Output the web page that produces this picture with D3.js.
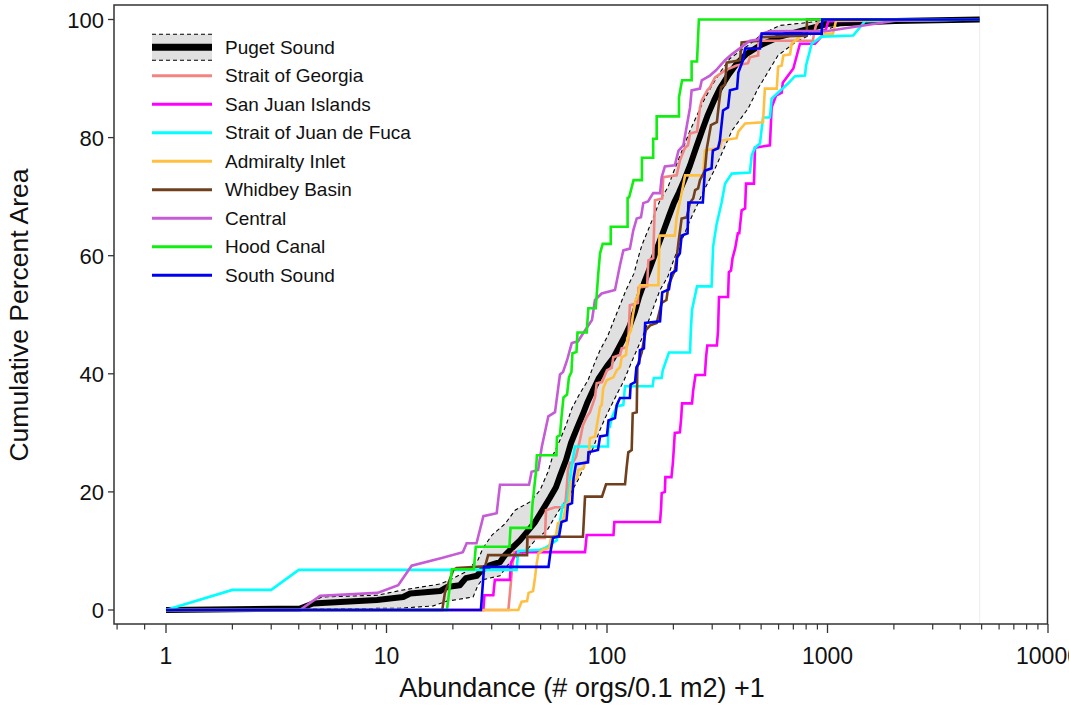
<!DOCTYPE html>
<html><head><meta charset="utf-8">
<script src="https://cdn.jsdelivr.net/npm/d3@7"></script>
<style>body{margin:0;background:#fff}svg{display:block}text{font-family:"Liberation Sans",Arial,sans-serif;fill:#111}</style>
</head><body><svg id="c" width="1069" height="707"></svg>
<script>
// ---------------- data ----------------
const seriesNames = ["Puget Sound","Strait of Georgia","San Juan Islands","Strait of Juan de Fuca","Admiralty Inlet","Whidbey Basin","Central","Hood Canal","South Sound"];
const xTicks = [1,10,100,1000,10000];
const xTickLabels = ["1","10","100","1000","10000"];
const yTicks = [0,20,40,60,80,100];
const yTickLabels = ["0","20","40","60","80","100"];

const pugetSound = [[1,0],[4.05,0.25],[4.64,1.1],[9.06,1.7],[11.9,2.2],[12.8,2.8],[17.5,3.2],[18.8,3.9],[21.5,4.2],[22.9,5.4],[25.7,5.8],[27.1,6.8],[29.5,7.6],[32.7,8.1],[34.5,9.3],[37.1,10.5],[40.3,11.8],[43.8,13.4],[47.2,14.9],[51.3,17.1],[55.1,19.0],[58.7,20.8],[61.2,22.7],[65.2,25.4],[68.7,28.3],[73.1,30.8],[77.8,33.2],[81.2,35.0],[86.4,37.2],[92.0,39.3],[100,41.3],[106.5,42.6],[113.4,44.5],[120.7,46.4],[127,48.2],[134,50.6],[139.7,53.0],[147,55.3],[155,57.5],[163,59.7],[172,62.1],[181,64.3],[191,66.7],[201,68.9],[212,70.7],[224,72.8],[238,75.3],[253,78.2],[270,81.2],[287,83.9],[306,86.3],[325,88.3],[354,90.5],[385,92.4],[427,94.1],[494,95.6],[609,97.1],[833,98.5],[1016,99.3],[2024,99.75],[4900,100]];
const pugetUpper = [[1,0],[4.05,0.5],[5.1,2.2],[9.06,2.5],[11.9,3.4],[17.5,4.4],[19.4,5.1],[22.7,6.4],[26.0,8.5],[27.4,10.5],[30.1,12.7],[34.5,14.6],[38.3,16.9],[44.7,18.3],[49.7,20.3],[54.0,23.4],[56.9,26.2],[61.2,28.8],[65.2,31.3],[69.4,34.2],[75.4,36.7],[82.0,38.9],[88.2,42.0],[93.0,44.0],[101,46.5],[107.6,49.1],[114.5,51.6],[122,54.2],[132.6,57.0],[138.3,59.6],[144,61.8],[153.5,64.3],[163,66.7],[174,69.4],[189,71.6],[199,73.9],[210,76.1],[224,78.7],[238,81.2],[256,83.8],[275,86.3],[299,88.8],[325,91.0],[361,93.4],[436,95.6],[510,97.6],[609,99.0],[925,99.7],[4900,100]];
const pugetLower = [[1,0],[11.5,0.3],[16.3,0.7],[18.8,1.5],[24.7,2.2],[26.0,4.2],[27.1,5.1],[32.7,5.8],[36.3,8.1],[43.4,10.2],[47.2,11.8],[53.5,13.5],[59.9,16.6],[67.9,19.6],[73.9,22.0],[80.3,24.9],[86.4,27.4],[92.0,30.1],[98.0,32.5],[105.4,34.9],[112.2,36.9],[119.5,38.9],[127,41.3],[135.3,43.7],[144,46.0],[153.5,48.7],[163,51.4],[174,54.2],[189,56.5],[199,58.9],[210,61.2],[224,63.6],[238,66.0],[256,68.5],[278,71.4],[306,74.4],[336,77.8],[369,81.2],[436,84.9],[484,88.3],[543,91.4],[596,93.9],[712,96.1],[878,97.8],[1140,99.0],[1730,99.7],[4900,100]];

const straitOfGeorgia = [[1,0],[35.7,0],[36.3,2.9],[37.0,6.4],[37.9,9.8],[43.2,9.8],[43.8,12.2],[52.3,12.2],[52.9,16.9],[58.1,17.4],[64.5,17.4],[65.7,20.8],[66.5,23.7],[67.9,24.9],[70.1,25.0],[72.3,25.9],[75.4,28.8],[77.8,31.3],[80.9,32.7],[83.7,33.5],[88.2,36.0],[89.8,38.4],[94.9,38.6],[100,40.6],[105,41.0],[106.8,42.8],[114.5,43.2],[116.6,44.3],[122.8,44.5],[124.9,45.7],[127,51.6],[138,52.0],[139,54.6],[152,54.8],[154,59.2],[162,59.6],[165,69.4],[178,69.7],[180,73.3],[207,73.6],[214,76.1],[226,78.3],[233,78.7],[238,80.7],[256,81.0],[264,85.1],[269,86.3],[285,88.0],[293,88.5],[309,90.2],[343,91.4],[387,92.2],[436,92.6],[445,93.6],[485,93.9],[486,96.4],[859,96.4],[868,97.6],[887,99.0],[925,100],[4900,100]];
const sanJuanIslands = [[1,0],[27.5,0],[27.8,2.5],[30.5,2.5],[31.0,5.1],[36.3,5.1],[36.6,7.9],[38.9,9.8],[79.5,9.8],[80.9,12.7],[107,12.7],[108,14.9],[174,14.9],[176,17.4],[177,19.8],[183,20.0],[184,22.5],[196,22.5],[199,24.9],[201,27.4],[203,30.0],[214,30.1],[217,32.5],[219,35.0],[243,35.0],[246,37.2],[252,39.8],[278,39.8],[281,42.6],[285,44.8],[315,44.8],[319,47.4],[322,53.0],[354,53.0],[357,57.2],[365,57.5],[371,59.6],[381,61.2],[392,63.8],[398,63.8],[408,67.7],[423,68.0],[427,72.2],[464,72.2],[469,78.3],[548,78.7],[558,85.1],[584,87.1],[620,87.6],[627,89.3],[700,91.7],[750,95.9],[878,95.9],[974,97.8],[1008,99.7],[4900,100]];
const straitOfJuanDeFuca = [[1,0],[2,3.4],[3,3.4],[4,6.8],[38.9,6.8],[39.6,10.0],[49.7,10.2],[52.3,10.5],[59.2,11.8],[63.0,17.8],[65.9,18.1],[68.7,23.7],[71.6,27.7],[101,27.7],[101.4,31.0],[103,31.0],[105,32.5],[110.7,34.5],[118.6,34.7],[120.7,37.9],[161,37.9],[163,39.3],[177,39.3],[179,40.6],[191,43.6],[238,43.6],[240,47.4],[243,50.8],[256,54.8],[298,54.8],[303,61.6],[314,65.3],[331,69.0],[343,72.2],[368,73.9],[445,74.1],[453,77.0],[469,78.3],[494,79.0],[510,83.4],[548,83.4],[558,86.6],[664,89.2],[712,90.4],[791,90.5],[799,92.2],[848,95.9],[941,97.1],[1309,97.3],[1479,99.7],[4900,100]];
const admiraltyInlet = [[1,0],[39.6,0],[41.0,1.4],[43.4,1.5],[44.1,2.9],[46.2,3.2],[46.7,4.4],[47.2,5.6],[48.0,7.9],[48.9,9.6],[51.3,10.2],[54.6,10.5],[55.7,12.2],[58.7,12.7],[59.9,14.7],[63.2,15.2],[65.2,17.8],[67.2,18.3],[68.7,21.7],[73.1,22.3],[74.1,23.7],[78.1,24.0],[79.5,25.0],[82.3,25.4],[83.7,29.1],[88.2,29.4],[93.0,34.4],[94.6,34.7],[96.2,37.6],[99.7,38.9],[106.8,39.4],[110.7,40.6],[114.5,41.1],[116.6,42.8],[122,43.2],[123.6,46.0],[128.5,47.4],[131,49.9],[135,52.5],[139,53.6],[141,55.0],[171,55.0],[173,63.4],[203,63.4],[207,66.5],[218,70.6],[226,73.6],[273,73.6],[278,77.8],[325,78.3],[331,79.5],[387,79.9],[394,81.0],[423,82.4],[510,82.6],[520,88.3],[589,88.3],[597,92.0],[620,92.2],[630,93.9],[676,94.1],[688,95.9],[777,97.6],[1059,97.6],[1093,99.8],[4900,100]];
const whidbeyBasin = [[1,0],[17.9,0],[18.4,2.9],[20.1,6.8],[20.8,7.1],[28.0,7.4],[28.9,9.3],[43.4,9.3],[43.5,12.4],[77.8,12.4],[79.5,19.2],[94.9,19.2],[99.0,21.3],[120.7,21.3],[122.8,24.2],[124.9,26.7],[129.4,27.1],[130.8,33.3],[136.4,33.5],[137.3,41.3],[143.7,43.6],[150,47.4],[157,48.2],[168,48.6],[177,52.0],[186,52.5],[190,55.0],[203,57.5],[207,59.6],[211,62.3],[218,66.3],[230,66.5],[238,69.0],[246,69.7],[251,71.1],[259,71.4],[264,72.8],[278,74.4],[284,78.3],[296,82.1],[315,82.6],[322,85.8],[329,88.5],[343,89.0],[349,92.7],[401,93.1],[408,96.1],[486,96.4],[494,97.0],[805,97.3],[807,100],[4900,100]];
const central = [[1,0],[4.05,0],[5,2.4],[9.1,2.9],[11.3,4.2],[13.0,7.5],[17.8,8.8],[22.2,9.8],[23.1,11.3],[25.6,11.3],[27.5,15.9],[31.6,16.4],[32.7,21.2],[44.3,21.2],[45.5,23.4],[48.7,23.7],[50.6,27.6],[54.2,32.8],[58.1,33.5],[61.2,39.9],[63.2,40.3],[65.9,42.3],[69.2,45.2],[73.9,45.5],[78.1,46.9],[85.5,49.1],[88.2,52.5],[94.6,53.6],[108.7,54.2],[114.5,58.4],[118.6,60.9],[127,61.2],[131.6,64.3],[136.4,66.3],[142.6,66.5],[146.1,68.9],[153.5,69.2],[162,70.6],[174,70.6],[177,73.3],[183,75.1],[203,75.3],[211,77.8],[222,78.7],[238,85.1],[242,88.0],[264,88.3],[269,89.7],[293,90.5],[312,91.4],[343,93.1],[368,94.1],[445,96.4],[484,96.6],[503,97.6],[548,98.0],[1016,98.1],[2024,99.8],[4900,100]];
const hoodCanal = [[1,0],[18.8,0],[19.8,6.9],[24.9,6.9],[25.4,10.7],[36.1,10.7],[36.5,13.9],[45.2,13.9],[45.9,17.8],[47.6,23.4],[48.1,26.2],[59.0,26.2],[59.3,29.3],[61.2,29.6],[62.2,32.7],[63.5,36.0],[65.9,36.5],[67.2,39.4],[69.0,40.3],[69.7,43.5],[72.7,43.7],[73.5,47.0],[80.9,47.0],[82.3,51.1],[88.9,51.1],[89.8,53.3],[91.3,57.0],[93.0,60.4],[95.6,62.0],[104,62.0],[104,64.9],[124,64.9],[124,69.8],[126,69.9],[132,72.8],[144,72.8],[144,76.6],[162,76.6],[162,79.8],[168,79.8],[168,83.6],[212,83.6],[212,86.8],[219,89.7],[242,89.7],[242,92.9],[256,92.9],[261,100],[4900,100]];
const southSound = [[1,0],[26.8,0],[27.7,7.3],[54.3,7.3],[55.4,9.8],[56.9,12.2],[60.6,12.5],[62.2,14.9],[65.5,15.2],[66.5,17.8],[69.4,18.1],[70.5,22.3],[72.3,24.7],[82.0,25.0],[82.4,26.7],[91.0,27.1],[93.0,29.4],[100,29.6],[101.6,32.1],[108.7,32.5],[110.7,34.7],[114.5,35.9],[127,35.9],[128,38.2],[134,38.6],[136,41.1],[140,41.8],[141,44.0],[147,44.3],[149,48.6],[174,48.9],[178,53.8],[191,54.3],[196,57.0],[206,57.5],[208,59.7],[214,60.4],[218,63.4],[232,63.8],[234,69.0],[272,69.0],[278,74.4],[298,74.8],[302,77.8],[319,78.2],[325,79.5],[336,84.6],[354,85.1],[361,88.0],[389,88.3],[394,91.0],[414,93.1],[423,95.1],[494,95.1],[503,97.6],[941,97.6],[947,100],[4900,100]];

const regionSeries = [straitOfGeorgia,sanJuanIslands,straitOfJuanDeFuca,admiraltyInlet,whidbeyBasin,central,hoodCanal,southSound];
// styles
const regionColors = ["#f28482","#ff00ff","#00ffff","#ffbf40","#70401e","#c55bd6","#11ee11","#0000f0"];

// ---------------- chart ----------------
const svg = d3.select("#c");
const box = {l:114, r:1047.5, t:5, b:624};
const x = d3.scaleLog().domain([1,10000]).range([166,1048]);
const y = d3.scaleLinear().domain([0,100]).range([610,19.5]);

svg.append("rect").attr("width",1069).attr("height",707).attr("fill","#fff");
svg.append("defs").append("clipPath").attr("id","clip")
  .append("rect").attr("x",box.l).attr("y",box.t).attr("width",box.r-box.l).attr("height",box.b-box.t);

// faint end line
svg.append("line").attr("x1",x(4900)).attr("x2",x(4900)).attr("y1",box.t).attr("y2",box.b)
  .attr("stroke","#ececec").attr("stroke-width",1);

const line = d3.line().x(d=>x(d[0])).y(d=>y(d[1]));
const g = svg.append("g").attr("clip-path","url(#clip)");

// CI band
const bandPts = pugetUpper.concat(pugetLower.slice().reverse());
g.append("path").attr("d",line(bandPts)+"Z").attr("fill","#e0e0e0").attr("stroke","none");
[pugetUpper,pugetLower].forEach(s=>{
  g.append("path").attr("d",line(s)).attr("fill","none").attr("stroke","#000")
   .attr("stroke-width",1.1).attr("stroke-dasharray","4,3");
});
g.append("path").attr("d",line(pugetSound)).attr("fill","none").attr("stroke","#000")
  .attr("stroke-width",6).attr("stroke-linejoin","round");

regionSeries.forEach((s,i)=>{
  g.append("path").attr("d",line(s)).attr("fill","none").attr("stroke",regionColors[i])
   .attr("stroke-width",2.6).attr("stroke-linejoin","miter");
});

// frame
svg.append("rect").attr("x",box.l).attr("y",box.t).attr("width",box.r-box.l).attr("height",box.b-box.t)
  .attr("fill","none").attr("stroke","#333").attr("stroke-width",1.5);

// x axis ticks
const minor = [0.6,0.8];
[1,10,100,1000].forEach(dec=>{ for(let k=2;k<=9;k++) minor.push(k*dec); });
minor.forEach(v=>{
  svg.append("line").attr("x1",x(v)).attr("x2",x(v)).attr("y1",box.b).attr("y2",box.b+5.5)
    .attr("stroke","#333").attr("stroke-width",1.2);
});
xTicks.forEach((v,i)=>{
  svg.append("line").attr("x1",x(v)).attr("x2",x(v)).attr("y1",box.b).attr("y2",box.b+9)
    .attr("stroke","#333").attr("stroke-width",1.3);
  svg.append("text").attr("x",x(v)).attr("y",664).attr("text-anchor","middle")
    .attr("font-size",23).text(xTickLabels[i]);
});
// y axis ticks
yTicks.forEach((v,i)=>{
  svg.append("line").attr("x1",box.l-6).attr("x2",box.l).attr("y1",y(v)).attr("y2",y(v))
    .attr("stroke","#333").attr("stroke-width",1.3);
  svg.append("text").attr("x",104).attr("y",y(v)+8).attr("text-anchor","end")
    .attr("font-size",22).text(yTickLabels[i]);
});

// axis titles
svg.append("text").attr("x",582).attr("y",697).attr("text-anchor","middle").attr("font-size",27)
  .text("Abundance (# orgs/0.1 m2) +1");
svg.append("text").attr("transform","translate(28,315) rotate(-90)").attr("text-anchor","middle")
  .attr("font-size",26.5).text("Cumulative Percent Area");

// legend
const lx0 = 152, lx1 = 212, ly0 = 47.3, ldy = 28.5;
const leg = svg.append("g");
leg.append("rect").attr("x",lx0).attr("y",ly0-13).attr("width",lx1-lx0).attr("height",26).attr("fill","#e0e0e0");
[ly0-13, ly0+13].forEach(yy=>{
  leg.append("line").attr("x1",lx0).attr("x2",lx1).attr("y1",yy).attr("y2",yy)
    .attr("stroke","#000").attr("stroke-width",1.1).attr("stroke-dasharray","4,3");
});
leg.append("line").attr("x1",lx0).attr("x2",lx1).attr("y1",ly0).attr("y2",ly0).attr("stroke","#000").attr("stroke-width",7);
seriesNames.forEach((n,i)=>{
  const yy = ly0 + i*ldy;
  if(i>0){
    leg.append("line").attr("x1",lx0).attr("x2",lx1).attr("y1",yy).attr("y2",yy)
      .attr("stroke",regionColors[i-1]).attr("stroke-width",3);
  }
  leg.append("text").attr("x",225).attr("y",yy+6.5).attr("font-size",19).text(n);
});
</script></body></html>
